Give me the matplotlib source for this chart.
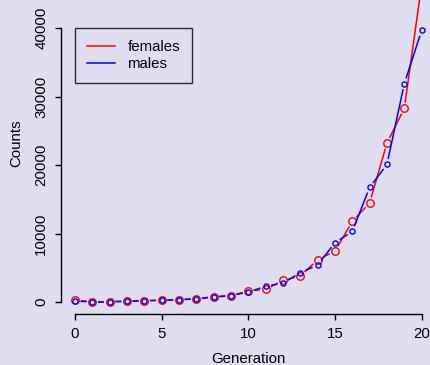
import numpy as np
import matplotlib.pyplot as plt

plt.rcParams['font.family'] = ['Liberation Sans', 'DejaVu Sans']

generation = list(range(21))
females = [280, 60, 60, 120, 200, 250, 330, 480, 800, 950, 1600, 1850, 3150,
           3800, 6170, 7440, 11770, 14450, 23210, 28260, 46300]
males = [90, 60, 60, 100, 200, 250, 340, 480, 700, 950, 1450, 2300, 2760,
         4280, 5400, 8660, 10310, 16730, 20090, 31870, 39650]

BG = '#dedef0'
FS = 10.8


def plot_b(ax, x, y, color, gap, msize, label):
    """R style type='b': points joined by lines that stop short of each point."""
    pts = ax.transData.transform(np.column_stack([x, y]))
    inv = ax.transData.inverted()
    scale = ax.figure.dpi / 72.0
    g = gap * scale
    for p0, p1 in zip(pts[:-1], pts[1:]):
        d = p1 - p0
        n = np.hypot(*d)
        if n <= 2 * g:
            continue
        u = d / n
        a = inv.transform(p0 + u * g)
        b = inv.transform(p1 - u * g)
        ax.plot([a[0], b[0]], [a[1], b[1]], color=color, lw=1.1,
                solid_capstyle='butt', clip_on=False)
    ax.plot(x, y, 'o', mfc='none', mec=color, ms=msize, mew=1.0, clip_on=False)
    ax.plot([], [], color=color, lw=1.1, label=label)


fig = plt.figure(figsize=(4.3, 3.65), dpi=100, facecolor=BG)
ax = fig.add_axes([61.1 / 430, 50.7 / 365, 374.4 / 430, 342.1 / 365])
ax.set_facecolor(BG)

# R default axis extension of 4% on each side
allv = np.array(females + males)
yr = allv.max() - allv.min()
ax.set_ylim(allv.min() - 0.04 * yr, allv.max() + 0.04 * yr)
ax.set_xlim(-0.04 * 20, 20 + 0.04 * 20)

plot_b(ax, generation, females, 'red', 4.2, 5.4, 'females')
plot_b(ax, generation, males, 'blue', 4.0, 3.7, 'males')

for s in ['top', 'right']:
    ax.spines[s].set_visible(False)
ax.spines['left'].set_bounds(0, 40000)
ax.spines['bottom'].set_bounds(0, 20)
for s in ['left', 'bottom']:
    ax.spines[s].set_linewidth(1.0)

ax.set_xticks([0, 5, 10, 15, 20])
ax.set_yticks([0, 10000, 20000, 30000, 40000])
ax.tick_params(direction='out', length=4.3, width=1.0, labelsize=FS, pad=5)
plt.setp(ax.get_yticklabels(), rotation=90, va='center')

ax.set_xlabel('Generation', fontsize=FS, labelpad=8)
ax.set_ylabel('Counts', fontsize=FS, labelpad=8)

leg = ax.legend(loc='upper left', bbox_to_anchor=((75 - 61.1) / 374.4, (314.3 - 28) / 342.1),
                borderaxespad=0, fontsize=FS, frameon=True, fancybox=False,
                handlelength=1.85, handletextpad=0.85, borderpad=0.8, labelspacing=0.22)
leg.get_frame().set_edgecolor('black')
leg.get_frame().set_facecolor(BG)
leg.get_frame().set_linewidth(1.0)

fig.savefig('out.png', dpi=100, facecolor=BG)
